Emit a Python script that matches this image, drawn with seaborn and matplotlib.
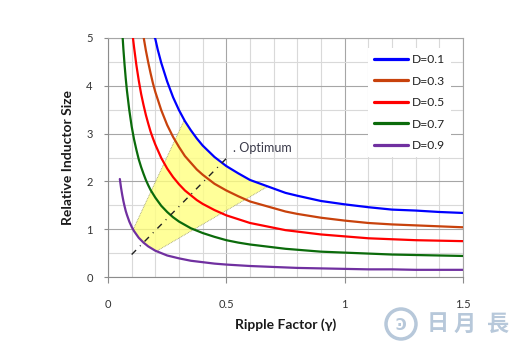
import numpy as np
import pandas as pd
import seaborn as sns
import matplotlib
matplotlib.use("Agg")
import matplotlib.pyplot as plt
from matplotlib.patches import Polygon, Ellipse

# Relative inductor size versus ripple factor, one curve per duty cycle
gamma_d01 = [0.198, 0.2, 0.21, 0.225, 0.25, 0.275, 0.3, 0.325, 0.35, 0.375, 0.4, 0.45, 0.5,
             0.55, 0.6, 0.65, 0.7, 0.75, 0.8, 0.9, 1.0, 1.1, 1.2, 1.3, 1.4, 1.5]
size_d01 = [5.0, 4.98, 4.76, 4.48, 4.09, 3.76, 3.49, 3.26, 3.07, 2.90, 2.75, 2.51, 2.32,
            2.17, 2.03, 1.94, 1.85, 1.76, 1.70, 1.59, 1.52, 1.46, 1.41, 1.39, 1.36, 1.34]

gamma_d03 = [0.15, 0.16, 0.17, 0.18, 0.19, 0.2, 0.225, 0.25, 0.275, 0.3, 0.325, 0.35, 0.375,
             0.4, 0.45, 0.5, 0.55, 0.6, 0.65, 0.7, 0.75, 0.8, 0.9, 1.0, 1.1, 1.2, 1.3, 1.4, 1.5]
size_d03 = [5.03, 4.74, 4.49, 4.26, 4.05, 3.87, 3.49, 3.18, 2.93, 2.72, 2.53, 2.39, 2.25,
            2.14, 1.95, 1.81, 1.69, 1.58, 1.51, 1.44, 1.37, 1.32, 1.24, 1.18, 1.13, 1.10, 1.08,
            1.06, 1.04]

gamma_d05 = [0.105, 0.11, 0.12, 0.13, 0.14, 0.15, 0.16, 0.17, 0.18, 0.19, 0.2, 0.225, 0.25,
             0.275, 0.3, 0.325, 0.35, 0.375, 0.4, 0.45, 0.5, 0.55, 0.6, 0.65, 0.7, 0.75, 0.8,
             0.9, 1.0, 1.1, 1.2, 1.3, 1.4, 1.5]
size_d05 = [5.02, 4.81, 4.43, 4.11, 3.83, 3.60, 3.39, 3.21, 3.04, 2.90, 2.77, 2.49, 2.27,
            2.09, 1.94, 1.81, 1.71, 1.61, 1.53, 1.40, 1.29, 1.21, 1.13, 1.08, 1.03, 0.98, 0.95,
            0.89, 0.85, 0.81, 0.79, 0.77, 0.76, 0.75]

gamma_d07 = [0.062, 0.065, 0.07, 0.075, 0.08, 0.09, 0.1, 0.11, 0.12, 0.13, 0.14, 0.15, 0.16,
             0.17, 0.18, 0.19, 0.2, 0.225, 0.25, 0.275, 0.3, 0.325, 0.35, 0.375, 0.4, 0.45,
             0.5, 0.55, 0.6, 0.65, 0.7, 0.75, 0.8, 0.9, 1.0, 1.1, 1.2, 1.3, 1.4, 1.5]
size_d07 = [5.0, 4.77, 4.44, 4.15, 3.90, 3.49, 3.15, 2.88, 2.66, 2.46, 2.30, 2.16, 2.03,
            1.92, 1.82, 1.74, 1.66, 1.49, 1.36, 1.25, 1.16, 1.09, 1.02, 0.97, 0.92, 0.84,
            0.77, 0.72, 0.68, 0.65, 0.62, 0.59, 0.57, 0.53, 0.51, 0.49, 0.47, 0.46, 0.45, 0.44]

gamma_d09 = [0.05, 0.055, 0.06, 0.065, 0.07, 0.075, 0.08, 0.09, 0.1, 0.11, 0.12, 0.13, 0.14,
             0.15, 0.16, 0.17, 0.18, 0.19, 0.2, 0.225, 0.25, 0.275, 0.3, 0.35, 0.4, 0.45, 0.5,
             0.6, 0.7, 0.8, 0.9, 1.0, 1.1, 1.2, 1.3, 1.4, 1.5]
size_d09 = [2.05, 1.87, 1.72, 1.59, 1.48, 1.38, 1.30, 1.16, 1.05, 0.96, 0.89, 0.82, 0.77,
            0.72, 0.68, 0.64, 0.61, 0.58, 0.55, 0.50, 0.45, 0.42, 0.39, 0.34, 0.31, 0.28, 0.26,
            0.23, 0.21, 0.19, 0.18, 0.17, 0.16, 0.16, 0.15, 0.15, 0.15]

duty_labels = ["D=0.1", "D=0.3", "D=0.5", "D=0.7", "D=0.9"]
duty_colors = ["#0000FF", "#C8420C", "#FF0000", "#0B6B0B", "#7030A0"]

# Optimum region: corners where the straight edges meet the D=0.1 and D=0.9 curves
region_left = (0.107, 1.00)
region_top = (0.322, 3.28)
region_right = (0.67, 1.88)
region_bottom = (0.205, 0.54)

# Optimum trend line
optimum_gamma = [0.10, 0.50]
optimum_size = [0.47, 2.48]

x_ticks = [0, 0.5, 1, 1.5]
x_tick_labels = ["0", "0.5", "1", "1.5"]
y_ticks = [0, 1, 2, 3, 4, 5]

frames = []
for lab, g, s in zip(duty_labels,
                     [gamma_d01, gamma_d03, gamma_d05, gamma_d07, gamma_d09],
                     [size_d01, size_d03, size_d05, size_d07, size_d09]):
    frames.append(pd.DataFrame({"gamma": g, "size": s, "duty": lab}))
df = pd.concat(frames, ignore_index=True)

sns.set_style("white")
plt.rcParams["font.family"] = ["Lato", "DejaVu Sans"]

fig = plt.figure(figsize=(5.2, 3.49), dpi=100)
ax = fig.add_axes([108 / 520, 72 / 349, 355 / 520, 239 / 349])

# Shaded optimum region bounded by the two extreme curves
blue_g = np.array(gamma_d01)
blue_s = np.array(size_d01)
purple_g = np.array(gamma_d09)
purple_s = np.array(size_d09)
upper = [(g, s) for g, s in zip(blue_g, blue_s) if region_top[0] < g < region_right[0]]
lower = [(g, s) for g, s in zip(purple_g, purple_s) if region_left[0] < g < region_bottom[0]][::-1]
verts = [region_left, region_top] + upper + [region_right, region_bottom] + lower
ax.add_patch(Polygon(verts, closed=True, facecolor="#FFFF80", alpha=0.8,
                     edgecolor="none", zorder=1.5))
ax.plot([region_left[0], region_top[0]], [region_left[1], region_top[1]],
        color="#9A9A70", lw=0.6, ls=(0, (1, 1)), zorder=1.6)
ax.plot([region_bottom[0], region_right[0]], [region_bottom[1], region_right[1]],
        color="#9A9A70", lw=0.6, ls=(0, (1, 1)), zorder=1.6)

sns.lineplot(data=df, x="gamma", y="size", hue="duty", palette=duty_colors,
             hue_order=duty_labels, estimator=None, sort=False, lw=1.6, ax=ax, zorder=3)

ax.plot(optimum_gamma, optimum_size, color="#222222", lw=1.0,
        ls=(0, (4.5, 4, 0.7, 4)), zorder=4)
ax.text(0.527, 2.70, ". Optimum", fontsize=9, color="#3A3A4A", va="center", ha="left",
        zorder=5)

ax.set_xlim(0, 1.5)
ax.set_ylim(0, 5)
ax.set_xticks(x_ticks)
ax.set_xticklabels(x_tick_labels)
ax.set_yticks(y_ticks)
ax.set_xticks(np.arange(0, 1.51, 0.1), minor=True)
ax.set_yticks(np.arange(0, 5.01, 0.5), minor=True)
ax.grid(which="major", color="#A6A6A6", lw=0.8, zorder=0)
ax.grid(which="minor", color="#D9D9D9", lw=0.8, zorder=0)
ax.set_axisbelow(True)
ax.tick_params(axis="x", which="major", length=4.5, width=0.8, color="#8C8C8C",
               pad=11, labelsize=8, labelcolor="#333333", direction="out", bottom=True)
ax.tick_params(axis="y", which="major", length=3, width=0.8, color="#8C8C8C",
               pad=8, labelsize=8, labelcolor="#333333", direction="out", left=True)
ax.tick_params(which="minor", length=0)
for side in ["left", "bottom"]:
    ax.spines[side].set_color("#8C8C8C")
    ax.spines[side].set_linewidth(0.8)
for side in ["top", "right"]:
    ax.spines[side].set_color("#A6A6A6")
    ax.spines[side].set_linewidth(0.8)

ax.set_xlabel("Ripple Factor (γ)", fontsize=10, fontweight="bold", color="#1A1A1A",
              labelpad=6)
ax.set_ylabel("Relative Inductor Size", fontsize=10, fontweight="bold", color="#1A1A1A",
              labelpad=9)

leg = ax.legend(loc="upper right", bbox_to_anchor=(0.984, 0.983), fontsize=8.7,
                frameon=True, fancybox=False, framealpha=1, edgecolor="white",
                handlelength=2.85, handletextpad=0.3, labelspacing=0.87,
                borderpad=0.5, title=None)
leg.get_frame().set_linewidth(0)
for line in leg.get_lines():
    line.set_linewidth(2.3)
for t in leg.get_texts():
    t.set_color("#222222")

# Watermark
wm = "#B7C8DA"
fig.add_artist(Ellipse((401 / 520, 1 - 324 / 349), 30 / 520, 30 / 349, fill=False,
                       edgecolor=wm, lw=2.5))
fig.text(401 / 520, 1 - 325 / 349, "Ͽ", fontsize=11, color=wm, ha="center", va="center",
         fontweight="bold", family=["DejaVu Sans"])
for ch, xc in zip("日月長", [437.5, 465, 498]):
    fig.text(xc / 520, 1 - 324 / 349, ch, fontsize=16, color=wm, ha="center", va="center",
             fontweight="bold", family=["Noto Sans CJK TC", "DejaVu Sans"])

fig.savefig("out.png", dpi=100)
